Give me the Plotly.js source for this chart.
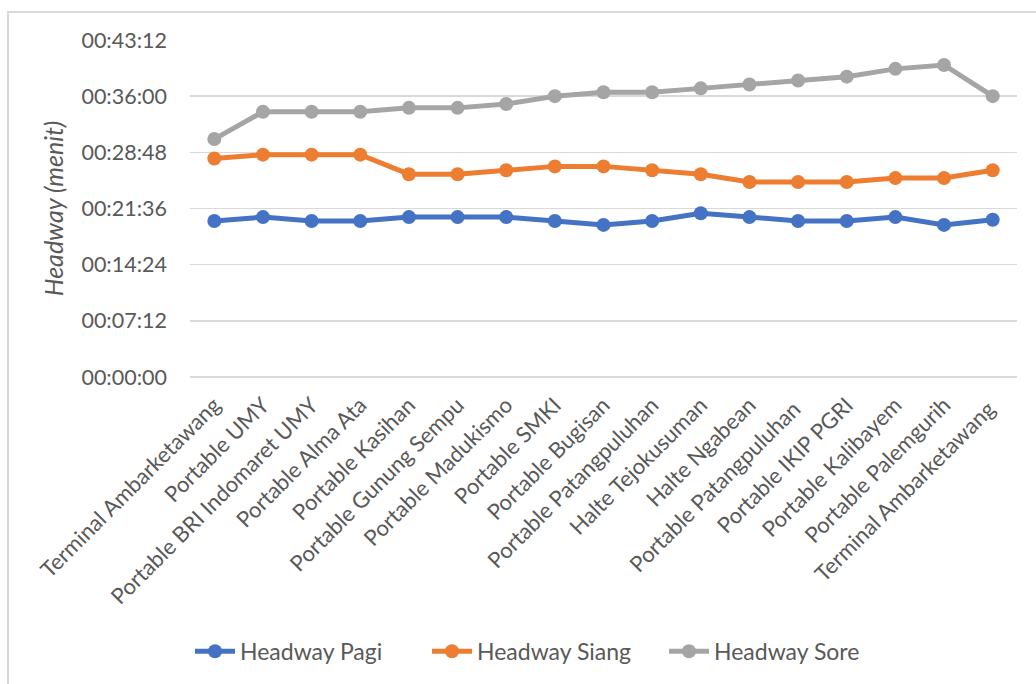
<!DOCTYPE html>
<html>
<head>
<meta charset="utf-8">
<script src="https://cdn.plot.ly/plotly-3.0.1.min.js"></script>
<style>
  html, body { margin: 0; padding: 0; background: #ffffff; overflow: hidden; }
  #chart { width: 1036px; height: 684px; }
  #frame { position: absolute; left: 7px; top: 11px; width: 1100px; height: 700px; border: 2px solid #d9d9d9; pointer-events: none; }
</style>
</head>
<body>
<div id="chart"></div>
<div id="frame"></div>
<script>
const categories = [
  "Terminal Ambarketawang", "Portable UMY", "Portable BRI Indomaret UMY", "Portable Alma Ata",
  "Portable Kasihan", "Portable Gunung Sempu", "Portable Madukismo", "Portable SMKI",
  "Portable Bugisan", "Portable Patangpuluhan", "Halte Tejokusuman", "Halte Ngabean",
  "Portable Patangpuluhan ", "Portable IKIP PGRI", "Portable Kalibayem", "Portable Palemgurih",
  "Terminal Ambarketawang "
];
const headwayPagi = ["00:20:00","00:20:30","00:20:00","00:20:00","00:20:30","00:20:30","00:20:30","00:20:00",
  "00:19:30","00:20:00","00:21:00","00:20:30","00:20:00","00:20:00","00:20:30","00:19:30","00:20:10"];
const headwaySiang = ["00:28:00","00:28:30","00:28:30","00:28:30","00:26:00","00:26:00","00:26:30","00:27:00",
  "00:27:00","00:26:30","00:26:00","00:25:00","00:25:00","00:25:00","00:25:30","00:25:30","00:26:30"];
const headwaySore = ["00:30:30","00:34:00","00:34:00","00:34:00","00:34:30","00:34:30","00:35:00","00:36:00",
  "00:36:30","00:36:30","00:37:00","00:37:30","00:38:00","00:38:30","00:39:30","00:40:00","00:36:00"];
const seriesNames = ["Headway Pagi", "Headway Siang", "Headway Sore"];
const seriesColors = ["#4472C4", "#ED7D31", "#A5A5A5"];
const yTickText = ["00:00:00","00:07:12","00:14:24","00:21:36","00:28:48","00:36:00","00:43:12"];

function toSec(s) { const p = s.split(":").map(Number); return p[0]*3600 + p[1]*60 + p[2]; }
const yTickVals = yTickText.map(toSec);

const allSeries = [headwayPagi, headwaySiang, headwaySore];
const traces = allSeries.map((vals, i) => ({
  type: "scatter",
  mode: "lines+markers",
  name: seriesNames[i],
  x: categories,
  y: vals.map(toSec),
  text: vals,
  hovertemplate: "%{x}: %{text}<extra>" + seriesNames[i] + "</extra>",
  line: { color: seriesColors[i], width: 5 },
  marker: { color: seriesColors[i], size: 14 }
}));

const font = "Lato, 'Open Sans', sans-serif";
const layout = {
  width: 1036, height: 684,
  margin: { l: 190, r: 19, t: 40, b: 306.7 },
  paper_bgcolor: "#ffffff",
  plot_bgcolor: "#ffffff",
  font: { family: font, color: "#595959", size: 21 },
  showlegend: true,
  legend: {
    orientation: "h", x: 0.0, xanchor: "left", y: -0.814, yanchor: "middle",
    font: { family: font, size: 23, color: "#595959" },
    entrywidth: 182, entrywidthmode: "pixels",
    itemwidth: 40, tracegroupgap: 0
  },
  xaxis: {
    type: "category",
    range: [-0.5, 16.5],
    automargin: false,
    tickangle: -45,
    tickfont: { family: font, size: 22, color: "#595959" },
    showgrid: false,
    showline: false,
    ticks: "",
    zeroline: false,
    ticklabelstandoff: 10,
    fixedrange: true
  },
  yaxis: {
    range: [0, 2592],
    automargin: false,
    tickvals: yTickVals,
    ticktext: yTickText,
    tickfont: { family: font, size: 21.5, color: "#595959" },
    showgrid: true, gridcolor: "#d9d9d9", gridwidth: 1.5,
    zeroline: true, zerolinecolor: "#d9d9d9", zerolinewidth: 1.5,
    showline: false, ticks: "", ticklabelstandoff: 22,
    title: { text: "<i>Headway (menit)</i>", font: { family: font, size: 25, color: "#595959" }, standoff: 10 },
    fixedrange: true
  }
};

Plotly.newPlot("chart", traces, layout, { displayModeBar: false, staticPlot: true });
</script>
</body>
</html>
